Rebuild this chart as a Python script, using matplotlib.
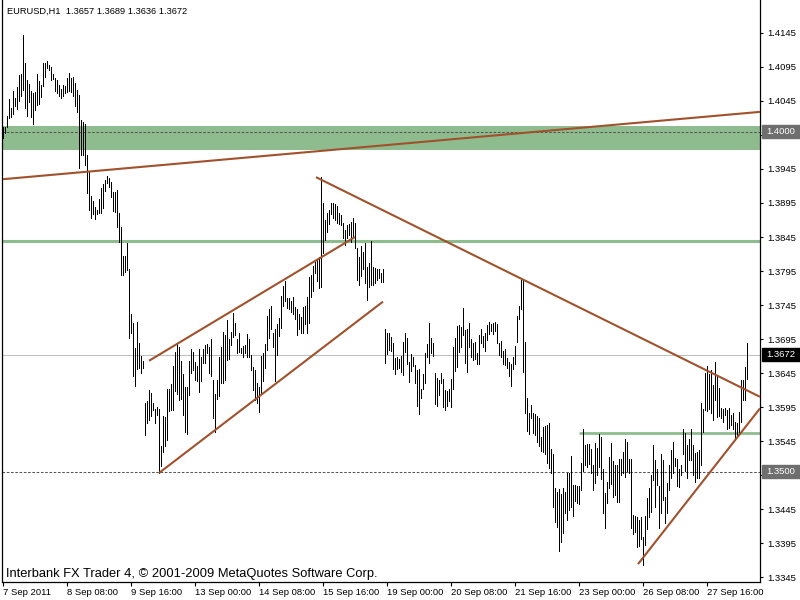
import matplotlib
matplotlib.use("Agg")
import matplotlib.pyplot as plt
import matplotlib.transforms as mtransforms
from matplotlib.patches import Rectangle

# EURUSD H1 bars, 7 Sep - 27 Sep 2011 (high / low per hour)
highs = [
    1.4007, 1.4007, 1.4023, 1.4048, 1.4035, 1.4060, 1.4049, 1.4066, 1.4083, 1.4085,
    1.4142, 1.4101, 1.4076, 1.4070, 1.4060, 1.4057, 1.4058, 1.4085, 1.4074, 1.4069,
    1.4101, 1.4101, 1.4104, 1.4098, 1.4095, 1.4085, 1.4079, 1.4076, 1.4069, 1.4063,
    1.4069, 1.4067, 1.4079, 1.4086, 1.4079, 1.4080, 1.4071, 1.4061, 1.4054, 1.4017,
    1.4014, 1.4011, 1.3966, 1.3941, 1.3905, 1.3898, 1.3889, 1.3885, 1.3901, 1.3917,
    1.3923, 1.3929, 1.3935, 1.3932, 1.3926, 1.3911, 1.3911, 1.3914, 1.3880, 1.3860,
    1.3817, 1.3817, 1.3836, 1.3798, 1.3732, 1.3719, 1.3682, 1.3720, 1.3689, 1.3670,
    1.3663, 1.3601, 1.3604, 1.3620, 1.3616, 1.3601, 1.3592, 1.3595, 1.3592, 1.3538,
    1.3582, 1.3580, 1.3621, 1.3621, 1.3629, 1.3655, 1.3676, 1.3689, 1.3683, 1.3663,
    1.3643, 1.3624, 1.3624, 1.3663, 1.3680, 1.3676, 1.3661, 1.3655, 1.3680, 1.3669,
    1.3680, 1.3686, 1.3688, 1.3683, 1.3695, 1.3635, 1.3614, 1.3635, 1.3669, 1.3683,
    1.3705, 1.3701, 1.3723, 1.3695, 1.3705, 1.3733, 1.3719, 1.3695, 1.3704, 1.3682,
    1.3685, 1.3686, 1.3702, 1.3695, 1.3671, 1.3654, 1.3649, 1.3630, 1.3624, 1.3670,
    1.3674, 1.3688, 1.3729, 1.3739, 1.3744, 1.3704, 1.3710, 1.3717, 1.3726, 1.3758,
    1.3773, 1.3780, 1.3755, 1.3755, 1.3751, 1.3757, 1.3742, 1.3739, 1.3732, 1.3727,
    1.3742, 1.3744, 1.3757, 1.3786, 1.3789, 1.3802, 1.3808, 1.3813, 1.3816, 1.3933,
    1.3895, 1.3870, 1.3880, 1.3885, 1.3895, 1.3895, 1.3894, 1.3891, 1.3880, 1.3877,
    1.3866, 1.3855, 1.3863, 1.3864, 1.3867, 1.3873, 1.3866, 1.3829, 1.3816, 1.3832,
    1.3823, 1.3836, 1.3801, 1.3807, 1.3839, 1.3801, 1.3799, 1.3798, 1.3798, 1.3792,
    1.3798, 1.3710, 1.3704, 1.3704, 1.3698, 1.3689, 1.3667, 1.3669, 1.3666, 1.3670,
    1.3691, 1.3704, 1.3696, 1.3661, 1.3673, 1.3669, 1.3657, 1.3649, 1.3651, 1.3621,
    1.3643, 1.3674, 1.3688, 1.3719, 1.3696, 1.3689, 1.3645, 1.3638, 1.3635, 1.3645,
    1.3636, 1.3620, 1.3619, 1.3621, 1.3636, 1.3683, 1.3696, 1.3714, 1.3716, 1.3713,
    1.3741, 1.3708, 1.3710, 1.3719, 1.3695, 1.3689, 1.3691, 1.3674, 1.3701, 1.3710,
    1.3699, 1.3704, 1.3716, 1.3720, 1.3717, 1.3719, 1.3720, 1.3717, 1.3689, 1.3692,
    1.3677, 1.3680, 1.3667, 1.3661, 1.3658, 1.3669, 1.3685, 1.3729, 1.3744, 1.3782,
    1.3783, 1.3691, 1.3608, 1.3586, 1.3598, 1.3586, 1.3585, 1.3582, 1.3579, 1.3551,
    1.3566, 1.3567, 1.3569, 1.3571, 1.3533, 1.3526, 1.3476, 1.3470, 1.3474, 1.3467,
    1.3476, 1.3470, 1.3498, 1.3498, 1.3523, 1.3480, 1.3480, 1.3479, 1.3479, 1.3513,
    1.3563, 1.3539, 1.3541, 1.3541, 1.3533, 1.3510, 1.3542, 1.3535, 1.3556, 1.3551,
    1.3504, 1.3469, 1.3485, 1.3521, 1.3542, 1.3516, 1.3510, 1.3510, 1.3519, 1.3519,
    1.3529, 1.3548, 1.3544, 1.3519, 1.3519, 1.3436, 1.3435, 1.3433, 1.3429, 1.3433,
    1.3404, 1.3435, 1.3461, 1.3476, 1.3495, 1.3539, 1.3517, 1.3504, 1.3479, 1.3526,
    1.3517, 1.3463, 1.3483, 1.3510, 1.3532, 1.3544, 1.3520, 1.3519, 1.3504, 1.3510,
    1.3563, 1.3557, 1.3539, 1.3548, 1.3563, 1.3539, 1.3527, 1.3529, 1.3532, 1.3601,
    1.3592, 1.3645, 1.3655, 1.3643, 1.3649, 1.3627, 1.3661, 1.3641, 1.3623, 1.3593,
    1.3592, 1.3593, 1.3591, 1.3593, 1.3583, 1.3586, 1.3573, 1.3571, 1.3588, 1.3635,
    1.3635, 1.3654, 1.3689,
]
lows = [
    1.3991, 1.3998, 1.4007, 1.4020, 1.4021, 1.4026, 1.4038, 1.4033, 1.4045, 1.4052,
    1.4061, 1.4035, 1.4023, 1.4044, 1.4021, 1.4011, 1.4032, 1.4039, 1.4041, 1.4051,
    1.4067, 1.4080, 1.4094, 1.4091, 1.4076, 1.4077, 1.4060, 1.4057, 1.4052, 1.4049,
    1.4052, 1.4057, 1.4058, 1.4060, 1.4058, 1.4052, 1.4038, 1.4029, 1.3946, 1.3966,
    1.3966, 1.3951, 1.3910, 1.3885, 1.3873, 1.3879, 1.3871, 1.3879, 1.3880, 1.3880,
    1.3888, 1.3913, 1.3924, 1.3919, 1.3904, 1.3883, 1.3882, 1.3860, 1.3838, 1.3789,
    1.3789, 1.3794, 1.3796, 1.3696, 1.3704, 1.3641, 1.3626, 1.3651, 1.3652, 1.3645,
    1.3652, 1.3554, 1.3571, 1.3576, 1.3582, 1.3591, 1.3571, 1.3583, 1.3498, 1.3508,
    1.3529, 1.3538, 1.3546, 1.3589, 1.3591, 1.3591, 1.3618, 1.3614, 1.3605, 1.3607,
    1.3583, 1.3558, 1.3555, 1.3613, 1.3645, 1.3649, 1.3635, 1.3633, 1.3617, 1.3633,
    1.3660, 1.3660, 1.3674, 1.3645, 1.3641, 1.3579, 1.3558, 1.3607, 1.3611, 1.3630,
    1.3630, 1.3635, 1.3664, 1.3666, 1.3686, 1.3698, 1.3701, 1.3674, 1.3676, 1.3674,
    1.3669, 1.3674, 1.3669, 1.3669, 1.3649, 1.3620, 1.3605, 1.3601, 1.3588, 1.3614,
    1.3633, 1.3652, 1.3679, 1.3696, 1.3710, 1.3683, 1.3633, 1.3671, 1.3699, 1.3711,
    1.3744, 1.3751, 1.3741, 1.3739, 1.3735, 1.3732, 1.3724, 1.3701, 1.3710, 1.3704,
    1.3704, 1.3717, 1.3704, 1.3719, 1.3757, 1.3766, 1.3792, 1.3780, 1.3770, 1.3771,
    1.3821, 1.3841, 1.3852, 1.3864, 1.3879, 1.3873, 1.3870, 1.3866, 1.3864, 1.3863,
    1.3844, 1.3833, 1.3844, 1.3848, 1.3838, 1.3845, 1.3829, 1.3782, 1.3774, 1.3788,
    1.3798, 1.3777, 1.3752, 1.3771, 1.3774, 1.3774, 1.3777, 1.3782, 1.3785, 1.3779,
    1.3779, 1.3660, 1.3673, 1.3679, 1.3677, 1.3651, 1.3643, 1.3651, 1.3652, 1.3646,
    1.3642, 1.3676, 1.3658, 1.3632, 1.3648, 1.3655, 1.3630, 1.3596, 1.3585, 1.3608,
    1.3621, 1.3630, 1.3669, 1.3660, 1.3674, 1.3670, 1.3599, 1.3596, 1.3613, 1.3630,
    1.3595, 1.3591, 1.3596, 1.3604, 1.3595, 1.3621, 1.3648, 1.3654, 1.3676, 1.3683,
    1.3701, 1.3660, 1.3646, 1.3683, 1.3669, 1.3664, 1.3666, 1.3658, 1.3658, 1.3689,
    1.3683, 1.3677, 1.3694, 1.3702, 1.3707, 1.3702, 1.3707, 1.3689, 1.3671, 1.3669,
    1.3658, 1.3657, 1.3652, 1.3641, 1.3626, 1.3651, 1.3658, 1.3691, 1.3724, 1.3739,
    1.3646, 1.3586, 1.3560, 1.3555, 1.3579, 1.3557, 1.3554, 1.3544, 1.3538, 1.3530,
    1.3529, 1.3526, 1.3513, 1.3505, 1.3498, 1.3448, 1.3426, 1.3419, 1.3383, 1.3396,
    1.3410, 1.3439, 1.3429, 1.3443, 1.3448, 1.3435, 1.3457, 1.3454, 1.3453, 1.3473,
    1.3501, 1.3510, 1.3507, 1.3511, 1.3498, 1.3473, 1.3483, 1.3495, 1.3507, 1.3489,
    1.3439, 1.3417, 1.3454, 1.3476, 1.3482, 1.3463, 1.3466, 1.3456, 1.3456, 1.3495,
    1.3498, 1.3492, 1.3501, 1.3498, 1.3417, 1.3408, 1.3411, 1.3389, 1.3390, 1.3401,
    1.3363, 1.3392, 1.3416, 1.3433, 1.3441, 1.3488, 1.3448, 1.3480, 1.3417, 1.3439,
    1.3458, 1.3424, 1.3439, 1.3473, 1.3490, 1.3498, 1.3508, 1.3479, 1.3477, 1.3495,
    1.3526, 1.3501, 1.3490, 1.3517, 1.3517, 1.3495, 1.3485, 1.3490, 1.3491, 1.3510,
    1.3558, 1.3591, 1.3589, 1.3592, 1.3586, 1.3576, 1.3605, 1.3580, 1.3582, 1.3579,
    1.3573, 1.3583, 1.3563, 1.3564, 1.3568, 1.3563, 1.3548, 1.3551, 1.3557, 1.3573,
    1.3605, 1.3605, 1.3636,
]
last_bar = ('1.3657', '1.3689', '1.3636', '1.3672')   # O H L C
bid = 1.3672

date_ticks = [0, 32, 64, 96, 128, 160, 192, 224, 256, 288, 320, 352]
date_labels = ['7 Sep 2011', '8 Sep 08:00', '9 Sep 16:00', '13 Sep 00:00',
               '14 Sep 08:00', '15 Sep 16:00', '19 Sep 00:00', '20 Sep 08:00',
               '21 Sep 16:00', '23 Sep 00:00', '26 Sep 08:00', '27 Sep 16:00']
price_ticks = [round(1.4145 - 0.005 * k, 4) for k in range(17)]

########## drawn objects (bar index, price) ##########
zone = (1.3973, 1.4008)
green_level = 1.3839
short_level = 1.3557
short_level_from = 288
round_levels = [1.4000, 1.3500]
trendlines = [
    [(0, 1.3930), (378.5, 1.4029)],
    [(73, 1.3663), (176, 1.3845)],
    [(78, 1.3498), (190, 1.3750)],
    [(156.5, 1.3933), (378.5, 1.3610)],
    [(317.5, 1.3364), (378.5, 1.3593)],
]

green = '#8fbc8f'
sienna = '#a0522d'
font = 'Liberation Sans'

fig = plt.figure(figsize=(8, 6), dpi=100)
ax = fig.add_axes([2 / 800, 18 / 600, 758 / 800, 582 / 600])
ax.set_xlim(-0.5, 378.5)
ax.set_ylim(1.33377, 1.41935)

ax.axhspan(zone[0], zone[1], color=green, lw=0, zorder=1)
ax.axhline(green_level, color=green, lw=2.2, zorder=1.5)
ax.hlines(short_level, short_level_from, 378.5, color=green, lw=2.0, zorder=1.5)
for lvl in round_levels:
    ax.axhline(lvl, color='#555555', lw=0.75, dashes=(2.5, 1.6), zorder=1.6)
ax.axhline(bid, color='#c0c0c0', lw=0.75, zorder=1.6)

ax.vlines(range(len(highs)), lows, highs, colors='black', lw=0.5,
          antialiased=False, zorder=2)

for (x0, y0), (x1, y1) in trendlines:
    ax.plot([x0, x1], [y0, y1], color=sienna, lw=1.5, zorder=3,
            solid_capstyle='butt')

# axes look of the terminal
ax.spines['top'].set_visible(False)
for s in ['left', 'right', 'bottom']:
    ax.spines[s].set_linewidth(0.9)

# highlighted price labels hide the regular label under them
tags = [(1.4000, '#6e6e6e'), (1.3500, '#6e6e6e'), (bid, 'black')]
ylabels = []
for p in price_ticks:
    hidden = any(abs(p - t) < 0.0008 for t, c in tags)
    ylabels.append('' if hidden else '%.4f' % p)

ax.yaxis.tick_right()
ax.set_yticks(price_ticks)
ax.set_yticklabels(ylabels)
ax.tick_params(axis='y', length=2.5, width=0.8, pad=2.5, labelsize=6.8)
ax.set_xticks(date_ticks)
ax.set_xticklabels(date_labels)
ax.tick_params(axis='x', length=3, width=0.8, pad=1.0, labelsize=6.8)
for lab in ax.get_xticklabels():
    lab.set_horizontalalignment('left')
    lab.set_fontfamily(font)
for lab in ax.get_yticklabels():
    lab.set_fontfamily(font)

trans = mtransforms.blended_transform_factory(fig.transFigure, ax.transData)
for lvl, col in tags:
    ax.add_patch(Rectangle((762 / 800, lvl - 0.00098), 38 / 800, 0.00196,
                           transform=trans, color=col, clip_on=False, zorder=10))
    ax.text(766 / 800, lvl, '%.4f' % lvl, transform=trans, color='white',
            fontsize=6.8, family=font, va='center', ha='left', zorder=11)

fig.text(7 / 800, 1 - 11 / 600, 'EURUSD,H1  ' + ' '.join(last_bar),
         fontsize=6.7, family=font, va='center', ha='left')
ax.text(6 / 800, 1 - 577 / 600, 'Interbank FX Trader 4, \u00a9 2001-2009 MetaQuotes Software Corp.',
        transform=fig.transFigure, fontsize=9.3, family=font, va='baseline',
        ha='left', zorder=12)

fig.savefig('out.png', dpi=100)
